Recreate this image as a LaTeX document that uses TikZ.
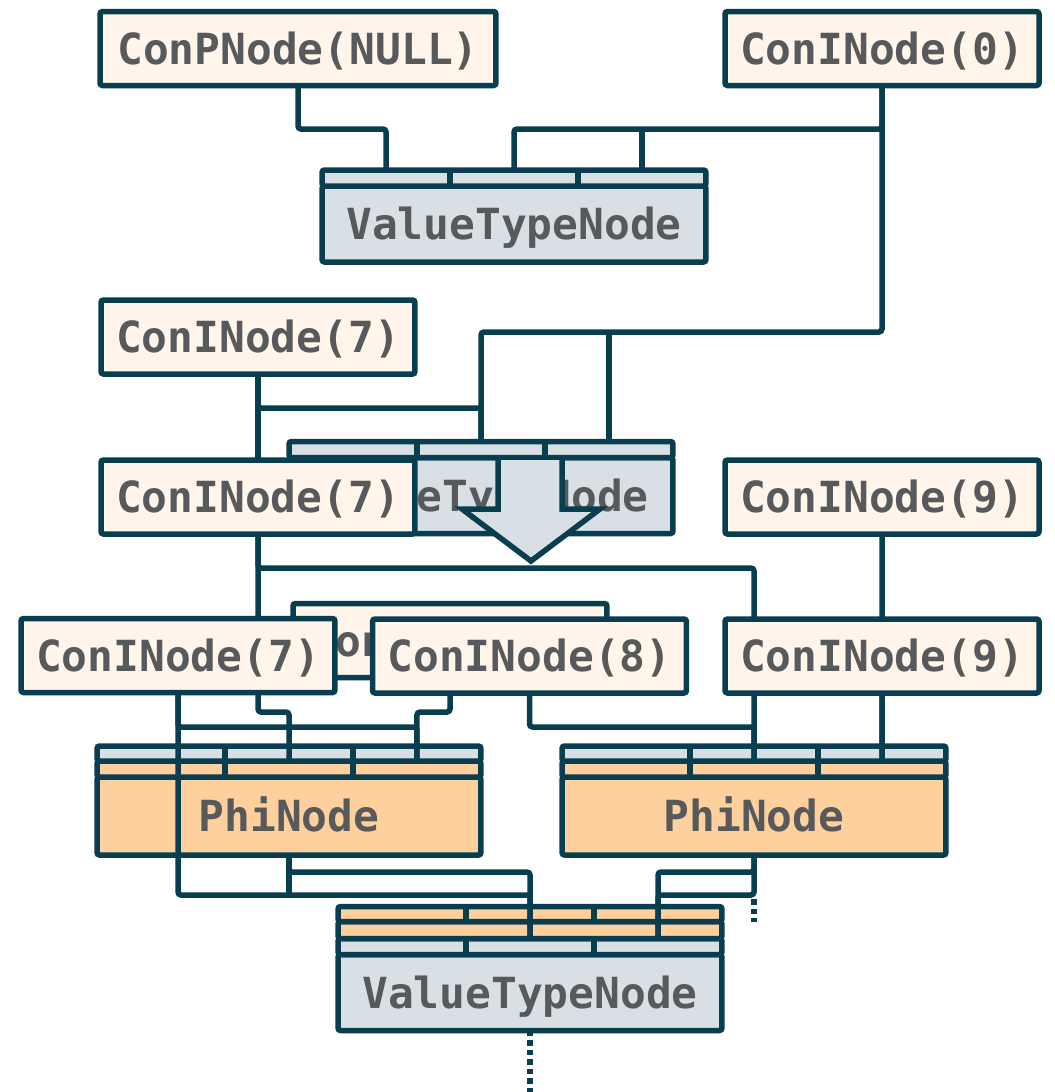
\documentclass[tikz,border=0pt]{standalone}
\usepackage{fontspec}
\newfontfamily\codefont{DejaVu Sans Mono}
\usetikzlibrary{calc}

\definecolor{edge}{RGB}{8,62,80}
\definecolor{cream}{RGB}{255,245,234}
\definecolor{slate}{RGB}{216,224,229}
\definecolor{peach}{RGB}{253,208,158}
\definecolor{ink}{RGB}{88,89,91}

\tikzset{
  box/.style={draw=edge,line width=0.55mm,rounded corners=0.25mm,inner sep=0pt,outer sep=0pt,
    text=ink,font=\codefont\bfseries\fontsize{12.2}{14}\selectfont,
    text height=3.1mm,text depth=0pt},
  con/.style={box,fill=cream,minimum width=31.4mm,minimum height=7.4mm},
  vtn/.style={box,fill=slate,minimum width=38.4mm,minimum height=7.6mm},
  phi/.style={box,fill=peach,minimum width=38.4mm,minimum height=7.8mm},
  band/.style={draw=edge,line width=0.55mm,rounded corners=0.25mm},
  wire/.style={draw=edge,line width=0.55mm,rounded corners=0.3mm},
  dots/.style={wire,dash pattern=on 0.55mm off 0.4mm}
}

\begin{document}
\begin{tikzpicture}[x=0.1mm,y=-0.1mm]
\useasboundingbox (0,0) rectangle (1055,1092);

% first graph
\node[con,minimum width=39.6mm] (nul) at (298,48.5) {ConPNode(NULL)};
\node[con] (zero) at (882,48.5) {ConINode(0)};
\node[vtn] (vtA) at (514,224) {ValueTypeNode};
\draw[band,fill=slate] (vtA.north west) rectangle ([yshift=1.6mm]vtA.north east);
\foreach \i in {1,2}
  \draw[wire] ([xshift=\i*12.8mm]vtA.north west) -- ++(0,-16);
\foreach \i in {1,2,3}
  \coordinate (vtA\i) at ([xshift=\i*12.8mm-6.4mm,yshift=1.6mm]vtA.north west);
\draw[wire] (nul.south) -- ++(0,43.5) -| (vtA1);
\draw[wire] (zero.south) -- ++(0,43.5) -| (vtA2);
\draw[wire] (vtA3) -- ++(0,-41);

% second graph
\node[con] (sevA) at (258,337) {ConINode(7)};
\node[vtn] (vtB) at (481,495.5) {ValueTypeNode};
\draw[band,fill=slate] (vtB.north west) rectangle ([yshift=1.6mm]vtB.north east);
\foreach \i in {1,2}
  \draw[wire] ([xshift=\i*12.8mm]vtB.north west) -- ++(0,-16);
\foreach \i in {2,3}
  \coordinate (vtB\i) at ([xshift=\i*12.8mm-6.4mm,yshift=1.6mm]vtB.north west);
\draw[wire] (zero.south) -- ++(0,246.5) -| (vtB2);
\draw[wire] (vtB3) -- ++(0,-109.5);
\draw[wire] (sevA.south) -- ++(0,34) -| (vtB2);
\filldraw[wire,fill=slate,rounded corners=0pt,line join=miter]
  (498,460) -- (498,509) -- (462,509) -- (531,561) -- (600,509) -- (562,509) -- (562,460);
\node[con] (sevB) at (258,497) {ConINode(7)};
\node[con] (nineA) at (882,497) {ConINode(9)};
\draw[wire] (sevA.south) -- (sevB.north);

% third graph
\node[phi] (phA) at (289,816) {PhiNode};
\node[phi] (phB) at (754,816) {PhiNode};
\foreach \p in {phA,phB}{
  \draw[band,fill=peach] (\p.north west) rectangle ([yshift=1.6mm]\p.north east);
  \draw[band,fill=slate] ([yshift=1.6mm]\p.north west) rectangle ([yshift=3.1mm]\p.north east);
  \foreach \i in {1,2}
    \draw[wire] ([xshift=\i*12.8mm]\p.north west) -- ++(0,-31);
  \foreach \i in {2,3}
    \coordinate (\p\i) at ([xshift=\i*12.8mm-6.4mm,yshift=1.6mm]\p.north west);
}
\draw[wire] (sevB.south) -- ++(0,34) -| (phB2);
\draw[wire] (sevB.south) -- ++(0,178) -| (phA2);
\draw[wire] (nineA.south) -- (phB3);
\node[con] (ghost) at (450,640.5) {\hspace{0.4mm}ConINode(7)};
\draw[wire] (ghost.south) -- ++(0,34.5) -| (phA3);
\node[con] (sevC) at (178,655.5) {ConINode(7)};
\node[con] (eight) at (529.5,656) {ConINode(8)};
\node[con] (nineB) at (882,656) {ConINode(9)};
\draw[wire] (sevC.south) -- ++(0,34.5) -| (phA3);
\draw[wire] (eight.south) -- ++(0,34) -| (phB2);
\draw[wire] (nineB.south) -- (phB3);

% merged value type
\node[vtn] (vtC) at (530,992.5) {ValueTypeNode};
\draw[band,fill=slate] (vtC.north west) rectangle ([yshift=1.6mm]vtC.north east);
\draw[band,fill=peach] ([yshift=1.6mm]vtC.north west) rectangle ([yshift=3.3mm]vtC.north east);
\draw[band,fill=peach] ([yshift=3.3mm]vtC.north west) rectangle ([yshift=4.8mm]vtC.north east);
\foreach \i in {1,2}{
  \draw[wire] ([xshift=\i*12.8mm]vtC.north west) -- ++(0,-16);
  \draw[wire] ([xshift=\i*12.8mm,yshift=3.3mm]vtC.north west) -- ++(0,-15);
}
\foreach \i in {2,3}
  \coordinate (vtC\i) at ([xshift=\i*12.8mm-6.4mm,yshift=1.6mm]vtC.north west);
\draw[wire] (sevC.south) -- ++(0,202.5) -| (vtC2);
\draw[wire] (phA.south) -- ++(0,17) -| (vtC2);
\draw[wire] (phA.south) -- ++(0,40);
\draw[wire] (phB.south) -- ++(0,17) -| (vtC3);
\draw[wire] (phB.south) -- ++(0,40) -| (vtC3);
\coordinate (tailB) at (754,922);
\coordinate (tailC) at (530,1092);
\draw[dots,dash phase=0.55mm] (phB.south) ++(0,40) -- (tailB);
\draw[dots] (vtC.south) -- (tailC);
\end{tikzpicture}
\end{document}
